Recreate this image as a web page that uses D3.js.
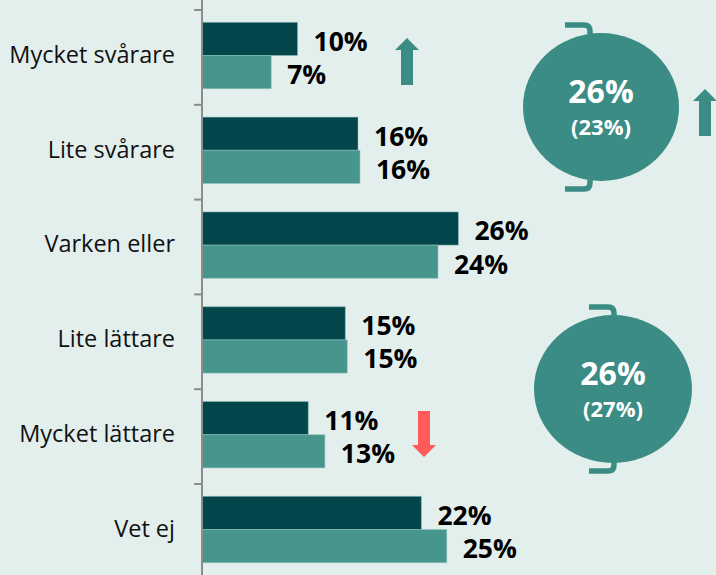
<!DOCTYPE html>
<html>
<head>
<meta charset="utf-8">
<script src="https://cdn.jsdelivr.net/npm/d3@7"></script>
<style>
    html, body { margin: 0; padding: 0; background: #e3efed; }
    svg { display: block; }
</style>
</head>
<body>
<svg id="chart" width="716" height="575"></svg>
<script>
// data
var categories = ['Mycket svårare', 'Lite svårare', 'Varken eller', 'Lite lättare', 'Mycket lättare', 'Vet ej'];
var series = ['current', 'previous'];
var currentValues = [9.8, 16.0, 26.3, 14.7, 10.9, 22.5];
var previousValues = [7.1, 16.2, 24.2, 14.9, 12.6, 25.1];
var currentLabels = ['10%', '16%', '26%', '15%', '11%', '22%'];
var previousLabels = ['7%', '16%', '24%', '15%', '13%', '25%'];
var summaryMain = ['26%', '26%'];
var summaryPrev = ['(23%)', '(27%)'];

var width = 716;
var height = 575;
var colors = { current: '#02464b', previous: '#46968d' };
var teal = '#3b8c84';

var svg = d3.select('#chart');

var x = d3.scaleLinear()
    .domain([0, 10])
    .range([202, 299.5]);

var y0 = d3.scaleBand()
    .domain(categories)
    .range([10, height])
    .paddingInner(0.3)
    .paddingOuter(0.13);

var y1 = d3.scaleBand()
    .domain(series)
    .range([0, y0.bandwidth()]);

var rows = categories.map(function (c, i) {
    return {
        cat: c,
        items: [
            { key: 'current', value: currentValues[i], label: currentLabels[i] },
            { key: 'previous', value: previousValues[i], label: previousLabels[i] }
        ]
    };
});

// 条形
var g = svg.append('g');

var row = g.selectAll('g.row')
    .data(rows)
    .enter()
    .append('g')
    .attr('class', 'row')
    .attr('transform', function (d) { return 'translate(0,' + y0(d.cat) + ')'; });

row.selectAll('rect')
    .data(function (d) { return d.items; })
    .enter()
    .append('rect')
    .attr('x', x(0))
    .attr('y', function (d) { return y1(d.key); })
    .attr('width', function (d) { return x(d.value) - x(0); })
    .attr('height', y1.bandwidth())
    .attr('fill', function (d) { return colors[d.key]; })
    .attr('stroke', '#8fc2bc')
    .attr('stroke-opacity', 0.5)
    .attr('stroke-width', 1);

row.selectAll('text.value')
    .data(function (d) { return d.items; })
    .enter()
    .append('text')
    .attr('class', 'value')
    .attr('x', function (d) { return x(d.value) + 16; })
    .attr('y', function (d) { return y1(d.key) + y1.bandwidth() / 2 + 12; })
    .attr('font-family', '"Open Sans", sans-serif')
    .attr('font-weight', 'bold')
    .attr('font-size', 26.5)
    .attr('fill', '#000')
    .text(function (d) { return d.label; });

// 坐标轴
var axis = svg.append('g');

axis.append('line')
    .attr('x1', x(0))
    .attr('x2', x(0))
    .attr('y1', 0)
    .attr('y2', height)
    .attr('stroke', '#8c8c8c')
    .attr('stroke-width', 2);

var bounds = d3.range(categories.length + 1).map(function (i) {
    return y0.range()[0] + i * y0.step();
});

axis.selectAll('line.tick')
    .data(bounds)
    .enter()
    .append('line')
    .attr('class', 'tick')
    .attr('x1', x(0) - 8)
    .attr('x2', x(0))
    .attr('y1', function (d) { return d; })
    .attr('y2', function (d) { return d; })
    .attr('stroke', '#8c8c8c')
    .attr('stroke-width', 2);

axis.selectAll('text.cat')
    .data(categories)
    .enter()
    .append('text')
    .attr('class', 'cat')
    .attr('x', 175)
    .attr('y', function (d) { return y0(d) + y0.bandwidth() / 2 - 1; })
    .attr('dy', '0.35em')
    .attr('text-anchor', 'end')
    .attr('font-family', '"Open Sans", sans-serif')
    .attr('font-size', 23.5)
    .attr('fill', '#111')
    .text(function (d) { return d; });

// 汇总圆
var circles = [
    { cx: 601, cy: 107, rx: 78, ry: 74, bx: 590 },
    { cx: 613, cy: 389, rx: 79, ry: 74, bx: 614 }
];

circles.forEach(function (c, i) {
    var cg = svg.append('g');

    cg.append('ellipse')
        .attr('cx', c.cx)
        .attr('cy', c.cy)
        .attr('rx', c.rx)
        .attr('ry', c.ry)
        .attr('fill', teal);

    var top = c.cy - c.ry;
    var bot = c.cy + c.ry;
    cg.append('path')
        .attr('d', 'M' + (c.bx - 25) + ',' + (top - 8) + ' L' + (c.bx - 6) + ',' + (top - 8) +
            ' Q' + c.bx + ',' + (top - 8) + ' ' + c.bx + ',' + (top - 2) + ' L' + c.bx + ',' + (top + 1) +
            ' M' + c.bx + ',' + (bot - 1) + ' L' + c.bx + ',' + (bot + 2) +
            ' Q' + c.bx + ',' + (bot + 8) + ' ' + (c.bx - 6) + ',' + (bot + 8) + ' L' + (c.bx - 25) + ',' + (bot + 8))
        .attr('stroke', teal)
        .attr('stroke-width', 5.5)
        .attr('fill', 'none');

    cg.append('text')
        .attr('x', c.cx)
        .attr('y', c.cy - 4)
        .attr('text-anchor', 'middle')
        .attr('font-family', '"Open Sans", sans-serif')
        .attr('font-weight', 'bold')
        .attr('font-size', 32)
        .attr('fill', '#fff')
        .text(summaryMain[i]);

    cg.append('text')
        .attr('x', c.cx)
        .attr('y', c.cy + 28)
        .attr('text-anchor', 'middle')
        .attr('font-family', '"Open Sans", sans-serif')
        .attr('font-weight', 'bold')
        .attr('font-size', 22)
        .attr('fill', '#fff')
        .text(summaryPrev[i]);
});

// 箭头
function arrow(cx, tipY, baseY, headH, up, color) {
    var hw = 12, sw = 6;
    var d;
    if (up) {
        d = 'M' + cx + ',' + tipY + ' L' + (cx + hw) + ',' + (tipY + headH) + ' L' + (cx + sw) + ',' + (tipY + headH) +
            ' L' + (cx + sw) + ',' + baseY + ' L' + (cx - sw) + ',' + baseY + ' L' + (cx - sw) + ',' + (tipY + headH) +
            ' L' + (cx - hw) + ',' + (tipY + headH) + ' Z';
    } else {
        d = 'M' + cx + ',' + tipY + ' L' + (cx + hw) + ',' + (tipY - headH) + ' L' + (cx + sw) + ',' + (tipY - headH) +
            ' L' + (cx + sw) + ',' + baseY + ' L' + (cx - sw) + ',' + baseY + ' L' + (cx - sw) + ',' + (tipY - headH) +
            ' L' + (cx - hw) + ',' + (tipY - headH) + ' Z';
    }
    svg.append('path').attr('d', d).attr('fill', color);
}

arrow(407, 38, 85, 12, true, teal);
arrow(705, 89, 136, 12, true, teal);
arrow(424, 457, 411, 12, false, '#ff5a5a');
</script>
</body>
</html>
